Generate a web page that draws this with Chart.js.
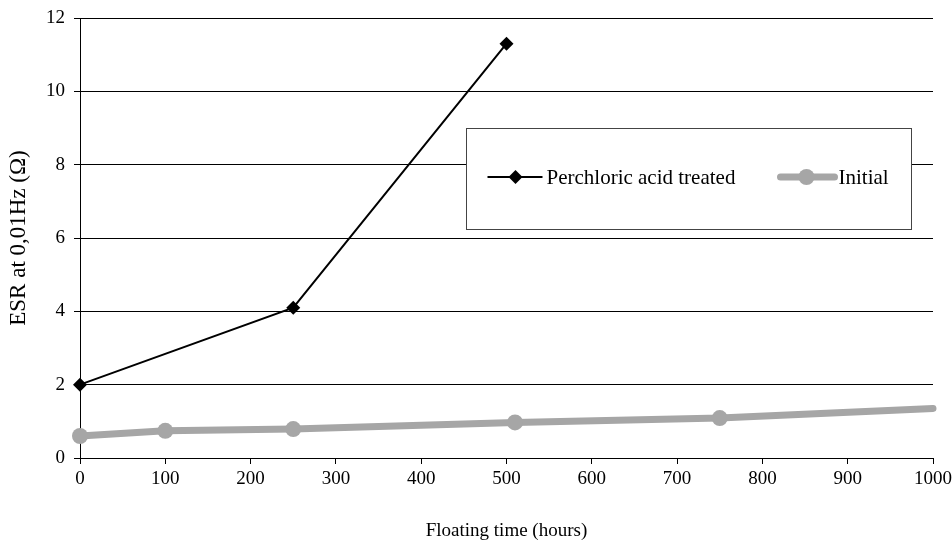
<!DOCTYPE html>
<html>
<head>
<meta charset="utf-8">
<script src="https://cdn.jsdelivr.net/npm/chart.js@4/dist/chart.umd.min.js"></script>
<style>
    html, body { margin: 0; padding: 0; background: #fff; }
    #wrap { width: 952px; height: 548px; }
</style>
</head>
<body>
<div id="wrap"><canvas id="esrChart" width="952" height="548"></canvas></div>
<script>
// values
const treatedLabel = 'Perchloric acid treated';
const treatedHours = [0, 250, 500];
const treatedEsr = [2.0, 4.1, 11.3];

const initialLabel = 'Initial';
const initialHours = [0, 100, 250, 510, 750, 1000];
const initialEsr = [0.6, 0.74, 0.79, 0.97, 1.09, 1.35];

const xMin = 0, xMax = 1000, xStep = 100;
const yMin = 0, yMax = 12, yStep = 2;

const FONT = 'Liberation Serif, "Times New Roman", serif';
const GREY = '#a6a6a6';

function toPoints(xs, ys) {
    return xs.map(function (x, i) { return { x: x, y: ys[i] }; });
}

// legend box drawn inside the plot, like the original
const boxLegend = {
    id: 'boxLegend',
    afterDraw: function (chart) {
        const ctx = chart.ctx;
        const a = chart.chartArea;
        const w = a.right - a.left, h = a.bottom - a.top;
        const x0 = Math.round(a.left + w * 0.453) + 0.5;
        const x1 = Math.round(a.left + w * 0.974) + 0.5;
        const y0 = Math.round(a.top + h * 0.25) + 0.5;
        const y1 = Math.round(a.top + h * 0.48) + 0.5;
        const cy = (y0 + y1) / 2 - 2;

        ctx.save();
        ctx.fillStyle = '#fff';
        ctx.fillRect(x0, y0, x1 - x0, y1 - y0);
        ctx.strokeStyle = '#444';
        ctx.lineWidth = 1;
        ctx.strokeRect(x0, y0, x1 - x0, y1 - y0);

        // treated
        ctx.strokeStyle = '#000';
        ctx.lineWidth = 2;
        ctx.beginPath();
        ctx.moveTo(x0 + 21, cy);
        ctx.lineTo(x0 + 76, cy);
        ctx.stroke();
        ctx.fillStyle = '#000';
        ctx.beginPath();
        ctx.moveTo(x0 + 49, cy - 7);
        ctx.lineTo(x0 + 56, cy);
        ctx.lineTo(x0 + 49, cy + 7);
        ctx.lineTo(x0 + 42, cy);
        ctx.closePath();
        ctx.fill();

        ctx.font = '21px ' + FONT;
        ctx.textBaseline = 'middle';
        ctx.textAlign = 'left';
        ctx.fillText(treatedLabel, x0 + 80, cy + 1);

        // initial
        ctx.strokeStyle = GREY;
        ctx.lineWidth = 7;
        ctx.lineCap = 'round';
        ctx.beginPath();
        ctx.moveTo(x0 + 314, cy);
        ctx.lineTo(x0 + 368, cy);
        ctx.stroke();
        ctx.fillStyle = GREY;
        ctx.beginPath();
        ctx.arc(x0 + 340, cy, 8, 0, Math.PI * 2);
        ctx.fill();
        ctx.fillStyle = '#000';
        ctx.fillText(initialLabel, x0 + 372, cy + 1);
        ctx.restore();
    }
};

new Chart(document.getElementById('esrChart'), {
    type: 'line',
    data: {
        datasets: [{
            label: initialLabel,
            data: toPoints(initialHours, initialEsr),
            borderColor: GREY,
            backgroundColor: GREY,
            borderWidth: 7,
            borderCapStyle: 'round',
            pointRadius: initialHours.map(function (x) { return x >= xMax ? 0 : 8; }),
            pointBorderWidth: 0,
            pointHoverRadius: 8,
            tension: 0,
            clip: 8,
        }, {
            label: treatedLabel,
            data: toPoints(treatedHours, treatedEsr),
            borderColor: '#000',
            backgroundColor: '#000',
            borderWidth: 2,
            pointStyle: 'rectRot',
            pointRadius: 7,
            pointBorderWidth: 0,
            tension: 0,
            clip: 8,
        }],
    },
    options: {
        responsive: false,
        animation: false,
        events: [],
        layout: { padding: { top: 18, right: 19, left: 0, bottom: 0 } },
        plugins: {
            legend: { display: false },
            tooltip: { enabled: false },
        },
        scales: {
            x: {
                type: 'linear',
                min: xMin,
                max: xMax,
                ticks: {
                    stepSize: xStep,
                    color: '#000',
                    font: { family: FONT, size: 19 },
                    padding: 4,
                    maxRotation: 0,
                    callback: function (v) { return String(v); },
                },
                grid: {
                    drawOnChartArea: false,
                    color: '#000',
                    tickLength: 6,
                    tickColor: '#000',
                },
                border: { color: '#000', width: 1 },
                title: {
                    display: true,
                    text: 'Floating time (hours)',
                    color: '#000',
                    font: { family: FONT, size: 19 },
                    padding: { top: 0, bottom: 6 },
                },
                afterFit: function (scale) {
                    scale.height = 90;
                    scale.paddingLeft = 0;
                    scale.paddingRight = 0;
                },
            },
            y: {
                min: yMin,
                max: yMax,
                ticks: {
                    stepSize: yStep,
                    color: '#000',
                    font: { family: FONT, size: 19 },
                    padding: 9,
                },
                grid: {
                    color: '#000',
                    lineWidth: 1,
                    tickLength: 6,
                },
                border: { color: '#000', width: 1 },
                title: {
                    display: true,
                    text: 'ESR at 0,01Hz (Ω)',
                    color: '#000',
                    font: { family: FONT, size: 23 },
                    padding: { top: 5, bottom: 0 },
                },
                afterFit: function (scale) {
                    scale.width = 80;
                    scale.paddingTop = 0;
                    scale.paddingBottom = 0;
                },
            },
        },
    },
    plugins: [boxLegend],
});
</script>
</body>
</html>
